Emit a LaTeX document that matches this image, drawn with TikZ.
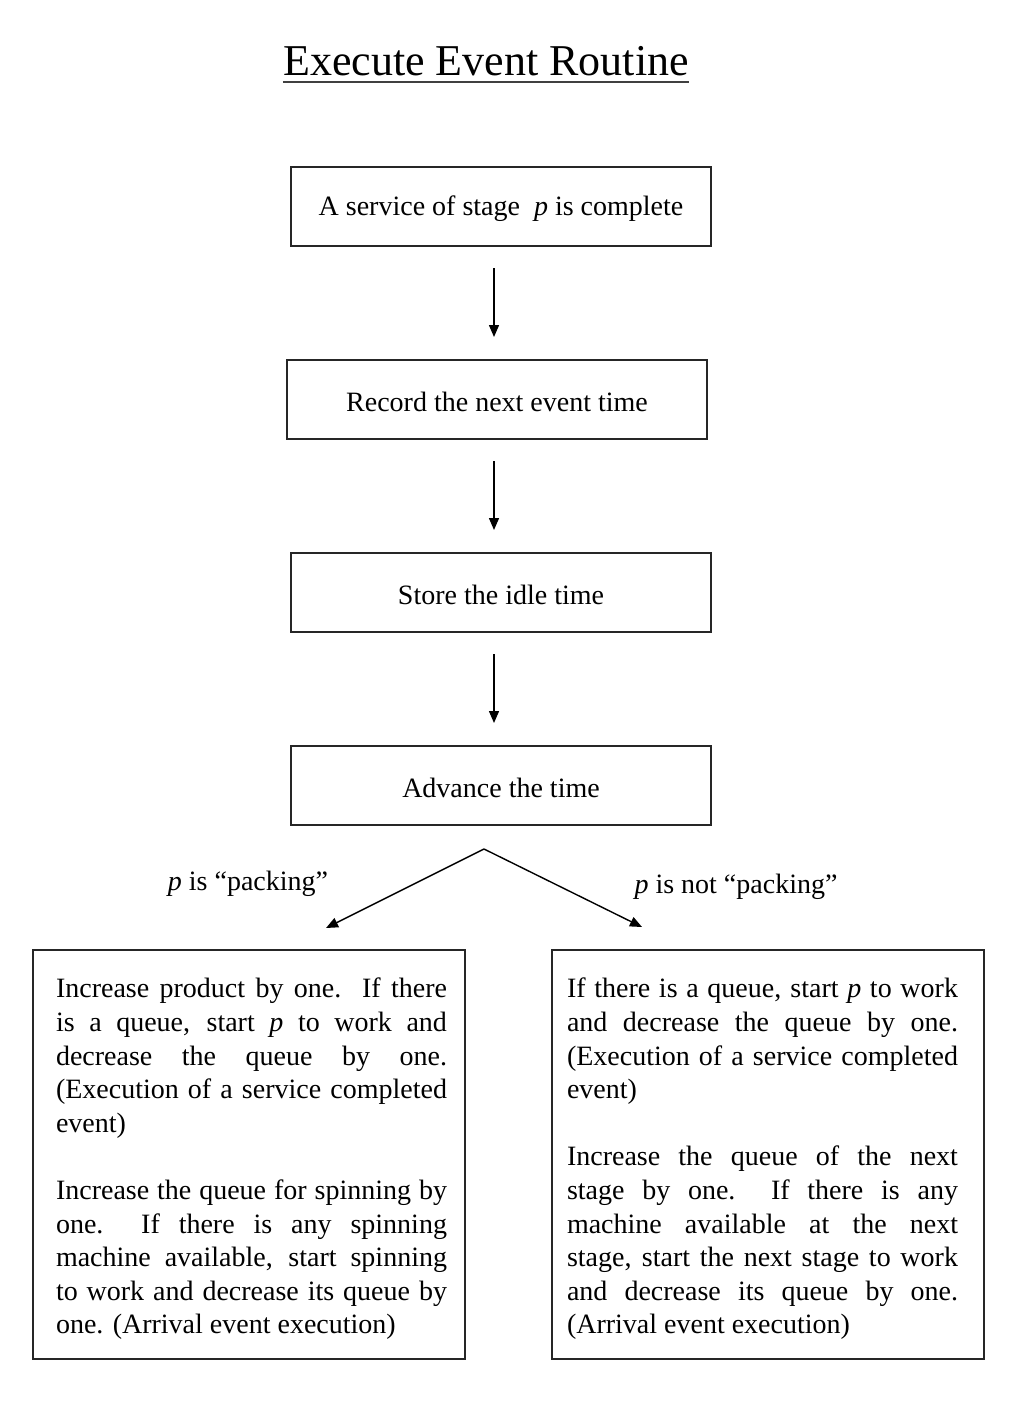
\documentclass[tikz,border=0pt]{standalone}
\usepackage{fontspec}
\setmainfont{Liberation Serif}
\usetikzlibrary{arrows.meta}
\begin{document}
\begin{tikzpicture}[x=1pt,y=-1pt,
  box/.style={draw=black!85,line width=1.4pt,minimum width=420pt,minimum height=79pt,inner sep=0pt},
  bigbox/.style={draw=black!85,line width=1.4pt,minimum width=432pt,minimum height=409pt,inner sep=0pt},
  txt/.style={inner sep=0pt,font=\fontsize{28}{33.6}\selectfont},
  para/.style={inner sep=0pt,text width=391pt,align=justify,font=\fontsize{28}{33.6}\selectfont},
  arr/.style={line width=1.4pt,-{Triangle[length=12pt,width=10pt]}}]
\useasboundingbox (0,0) rectangle (1016,1418);
\node[inner sep=0pt,font=\fontsize{44}{50}\selectfont] (title) at (486,61) {Execute Event Routine};
\draw[line width=1.6pt,draw=black!75] (title.west |- 0,82) -- (title.east |- 0,82);
\node[box] (b1) at (501,206.5) {};
\node[box] (b2) at (497,399.5) {};
\node[box] (b3) at (501,592.5) {};
\node[box] (b4) at (501,785.5) {};
\node[txt] (t1) at ([yshift=-2.5pt]b1.center) {A service of stage\ \ \textit{p} is complete};
\node[txt] (t2) at ([yshift=-2pt]b2.center) {Record the next event time};
\node[txt] (t3) at ([yshift=-2pt]b3.center) {Store the idle time};
\node[txt] (t4) at ([yshift=-2pt]b4.center) {Advance the time};
\coordinate (a1s) at (494,268); \coordinate (a1e) at (494,337);
\coordinate (a2s) at (494,461); \coordinate (a2e) at (494,530);
\coordinate (a3s) at (494,654); \coordinate (a3e) at (494,723);
\draw[arr] (a1s) -- (a1e);
\draw[arr] (a2s) -- (a2e);
\draw[arr] (a3s) -- (a3e);
\coordinate (apex) at (484,849);
\coordinate (ltip) at (326,928);
\coordinate (rtip) at (642,927);
\draw[arr] (apex) -- (ltip);
\draw[arr] (apex) -- (rtip);
\node[txt] (l1) at (248,884) {\textit{p} is “packing”};
\node[txt] (l2) at (736,887) {\textit{p} is not “packing”};
\node[bigbox] (left) at (249,1154.5) {};
\node[bigbox] (right) at (768,1154.5) {};
\node[para] (lefttxt) at (251.5,1159) {%
Increase product by one.\ \ If there\linebreak is a queue, start \textit{p} to work and\linebreak decrease the queue by one.\linebreak (Execution of a service completed\linebreak event)\par\vspace{33.6pt}%
Increase the queue for spinning by\linebreak one.\ \ If there is any spinning\linebreak machine available, start spinning\linebreak to work and decrease its queue by\linebreak one. (Arrival event execution)};
\node[para] (righttxt) at (762.5,1159) {%
If there is a queue, start \textit{p} to work\linebreak and decrease the queue by one.\linebreak (Execution of a service completed\linebreak event)\par\vspace{33.6pt}%
Increase the queue of the next\linebreak stage by one.\ \ If there is any\linebreak machine available at the next\linebreak stage, start the next stage to work\linebreak and decrease its queue by one.\linebreak (Arrival event execution)};
\end{tikzpicture}
\end{document}
